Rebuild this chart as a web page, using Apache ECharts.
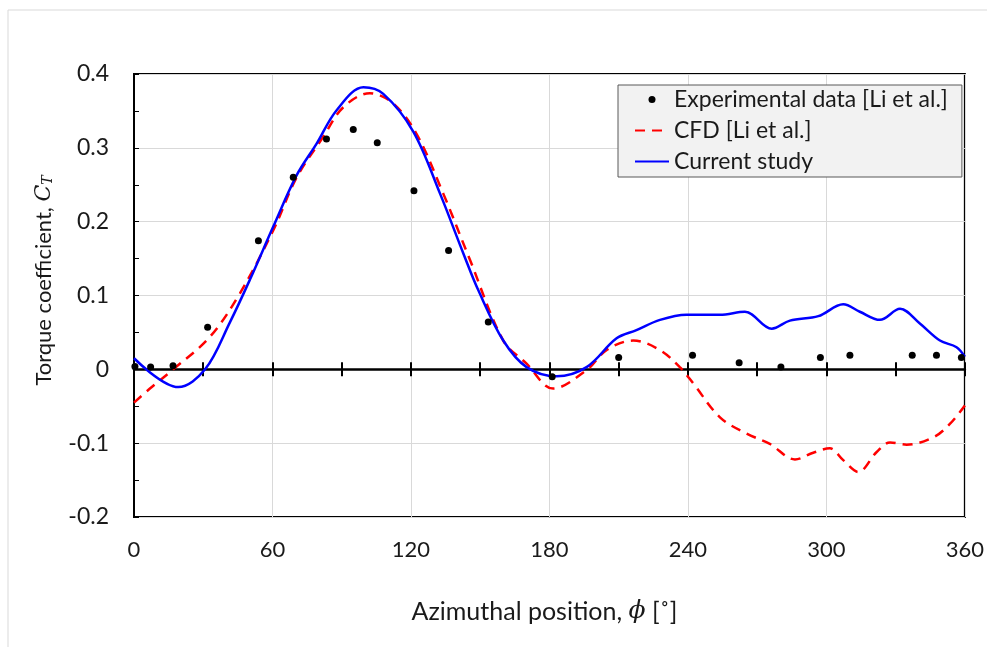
<!DOCTYPE html>
<html lang="en" style="height: 100%">
<head>
    <meta charset="utf-8">
    <title>Torque coefficient</title>
    <script src="https://cdn.jsdelivr.net/npm/echarts@6.0.0/dist/echarts.min.js"></script>
    <style>
        html, body { margin: 0; padding: 0; background: #fff; }
        #chart { width: 987px; height: 647px; }
    </style>
</head>
<body>
<div id="chart"></div>

<script type="text/javascript">
    var myChart = echarts.init(document.getElementById('chart'));

    // experimental data [Li et al.]
    var expAngle = [0.4, 7.2, 16.9, 31.9, 53.9, 69.0, 83.4, 95.0, 105.4, 121.3, 136.3, 153.5,
        181.2, 210.0, 242.0, 262.2, 280.3, 297.4, 310.2, 337.2, 347.7, 358.5];
    var expCt = [0.004, 0.003, 0.005, 0.057, 0.174, 0.260, 0.312, 0.325, 0.307, 0.242, 0.161, 0.064,
        -0.010, 0.016, 0.019, 0.009, 0.003, 0.016, 0.019, 0.019, 0.019, 0.016];

    // CFD [Li et al.]
    var cfdAngle = [0, 6.9, 17, 32.9, 45.9, 60.3, 70.5, 82, 90.7, 102.2, 112.3, 122.4, 134, 145.6,
        160, 170, 181.6, 196.1, 204.7, 216.3, 227.9, 236.5, 242.3, 253.9, 265.4, 275.5, 286.4,
        294.3, 301.5, 307.3, 313.8, 321.8, 327.6, 334.8, 346.4, 353.5, 360];
    var cfdCt = [-0.045, -0.026, 0, 0.044, 0.103, 0.188, 0.260, 0.315, 0.355, 0.374, 0.360, 0.319,
        0.238, 0.148, 0.039, 0.008, -0.026, -0.001, 0.026, 0.039, 0.026, 0.003, -0.019, -0.065,
        -0.087, -0.101, -0.122, -0.113, -0.107, -0.123, -0.139, -0.112, -0.099, -0.102, -0.092,
        -0.074, -0.049];

    // current study
    var curAngle = [0, 19.2, 30.8, 41.6, 50.3, 60.3, 70.5, 79.2, 87.8, 99.4, 108, 121, 132.6, 142.7,
        149.2, 160, 170.1, 183.1, 196.1, 209.1, 217.7, 227.9, 239.4, 253.9, 264.7, 276.3, 284.2,
        296.5, 307.3, 314.5, 323.2, 331.9, 340.5, 349.2, 356.4, 360];
    var curCt = [0.015, -0.024, 0, 0.064, 0.122, 0.193, 0.263, 0.306, 0.351, 0.382, 0.373, 0.322,
        0.238, 0.157, 0.107, 0.039, 0.003, -0.0095, 0.003, 0.042, 0.053, 0.067, 0.074, 0.074,
        0.078, 0.055, 0.066, 0.072, 0.088, 0.078, 0.067, 0.082, 0.062, 0.039, 0.030, 0.017];

    var xTicks = [0, 60, 120, 180, 240, 300, 360];
    var yTicks = [-0.2, -0.1, 0, 0.1, 0.2, 0.3, 0.4];

    function pairs(xs, ys) {
        return xs.map(function (x, i) { return [x, ys[i]]; });
    }

    var font = 'Lato, "Noto Sans", sans-serif';
    var ink = '#1a1a1a';

    myChart.setOption({
        animation: false,
        backgroundColor: '#fff',
        graphic: [{
            type: 'rect',
            shape: { x: 8, y: 10, width: 1000, height: 700 },
            style: { fill: 'none', stroke: '#d9d9d9', lineWidth: 1 },
            silent: true
        }],
        grid: {
            left: 134, right: 22, top: 74, bottom: 130,
            show: true, borderColor: '#000', borderWidth: 2
        },
        legend: {
            orient: 'vertical',
            left: 618, top: 85,
            padding: [3, 14, 4, 16],
            itemGap: 8,
            itemWidth: 34,
            itemHeight: 7,
            backgroundColor: '#f2f2f2',
            borderColor: '#595959',
            borderWidth: 1,
            borderRadius: 0,
            textStyle: { fontFamily: font, fontSize: 23, color: ink },
            data: [
                { name: 'Experimental data [Li et al.]' },
                { name: 'CFD [Li et al.]', itemStyle: { opacity: 0 } },
                { name: 'Current study', itemStyle: { opacity: 0 } }
            ]
        },
        xAxis: [{
            type: 'value', min: 0, max: 360, interval: 60,
            position: 'bottom',
            axisLine: { show: false, onZero: false },
            axisTick: { show: false },
            splitLine: { show: true, lineStyle: { color: '#d9d9d9', width: 1 } },
            axisLabel: {
                margin: 22, fontFamily: font, fontSize: 22, color: ink,
                formatter: function (v) { return xTicks.indexOf(v) >= 0 ? String(v) : ''; }
            },
            name: '{n|Azimuthal position, }{it|ϕ}{n| [˚]}',
            nameLocation: 'middle',
            nameGap: 82,
            nameTextStyle: {
                padding: [0, 10, 0, 0],
                rich: {
                    n: { fontFamily: font, fontSize: 25, color: ink },
                    it: { fontFamily: '"DejaVu Serif", serif', fontStyle: 'italic', fontSize: 25, color: ink }
                }
            }
        }, {
            type: 'value', min: 0, max: 360, interval: 30,
            position: 'bottom',
            axisLine: { show: true, onZero: true, onZeroAxisIndex: 0, lineStyle: { color: '#000', width: 2.5 } },
            axisTick: { show: true, inside: false, length: 7, lineStyle: { color: '#000', width: 2 } },
            axisLabel: { show: false },
            splitLine: { show: false }
        }, {
            type: 'value', min: 0, max: 360, interval: 30,
            position: 'bottom',
            axisLine: { show: false, onZero: true, onZeroAxisIndex: 1 },
            axisTick: { show: true, inside: true, length: 7, lineStyle: { color: '#000', width: 2 } },
            axisLabel: { show: false },
            splitLine: { show: false }
        }],
        yAxis: [{
            type: 'value', min: -0.2, max: 0.4, interval: 0.1,
            axisLine: { show: true, onZero: false, lineStyle: { color: '#000', width: 2 } },
            axisTick: { show: true, inside: true, length: 5, lineStyle: { color: '#000', width: 1 } },
            minorTick: { show: true, splitNumber: 2, length: 5, lineStyle: { color: '#000', width: 1 } },
            splitLine: { show: true, lineStyle: { color: '#d9d9d9', width: 1 } },
            axisLabel: {
                margin: 25, fontFamily: font, fontSize: 23, color: ink,
                formatter: function (v) {
                    var r = Math.round(v * 10) / 10;
                    return yTicks.indexOf(r) >= 0 ? String(r) : '';
                }
            },
            name: '{n|Torque coefficient, }{it|C}{sub|T}',
            nameLocation: 'middle',
            nameRotate: 90,
            nameGap: 79,
            nameTextStyle: {
                padding: [0, 0, 0, 30],
                rich: {
                    n: { fontFamily: font, fontSize: 22, color: ink },
                    it: { fontFamily: '"DejaVu Serif", serif', fontStyle: 'italic', fontSize: 22, color: ink },
                    sub: { fontFamily: '"DejaVu Serif", serif', fontStyle: 'italic', fontSize: 14, color: ink, verticalAlign: 'bottom', padding: [8, 0, 0, 0] }
                }
            }
        }, {
            type: 'value', min: -0.2, max: 0.4, interval: 0.1,
            show: false
        }],
        series: [{
            name: 'Experimental data [Li et al.]',
            type: 'scatter',
            symbol: 'circle',
            symbolSize: 7,
            itemStyle: { color: '#000', opacity: 1 },
            z: 5,
            data: pairs(expAngle, expCt)
        }, {
            name: 'CFD [Li et al.]',
            type: 'line',
            smooth: 0.35,
            showSymbol: false,
            symbol: 'none',
            lineStyle: { color: '#ff0000', width: 2.5, type: [10, 7] },
            itemStyle: { color: '#ff0000' },
            z: 3,
            data: pairs(cfdAngle, cfdCt)
        }, {
            name: 'Current study',
            type: 'line',
            smooth: 0.35,
            showSymbol: false,
            symbol: 'none',
            lineStyle: { color: '#0000ff', width: 2.5 },
            itemStyle: { color: '#0000ff' },
            z: 4,
            data: pairs(curAngle, curCt)
        }]
    });
</script>

</body>
</html>
